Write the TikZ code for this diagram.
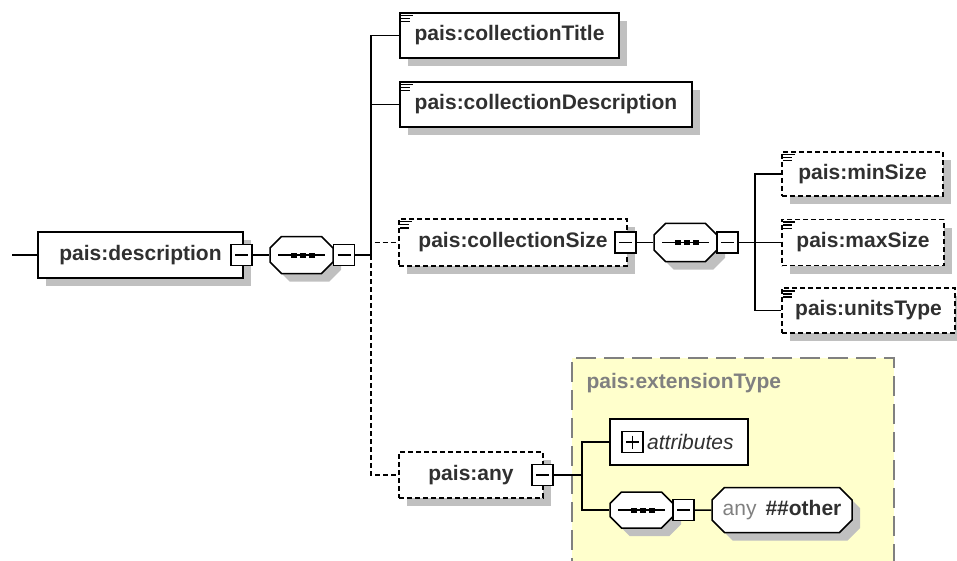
\documentclass[tikz,border=0pt]{standalone}
\usepackage{fontspec}
\setmainfont{Liberation Sans}
\usepackage{tikz}
\usetikzlibrary{positioning, shapes.misc, shadows}
\definecolor{colorText}{HTML}{303030}
\definecolor{colorShadow}{HTML}{C0C0C0}
\definecolor{colorType}{HTML}{FFFFCC}
\definecolor{colorTypeLine}{HTML}{808080}
\newcommand\seqline{\rule[-8pt]{0pt}{16pt}\rule[-0.75pt]{13pt}{1.5pt}\rule[-2.5pt]{6pt}{5pt}\rule[-0.75pt]{3pt}{1.5pt}\rule[-2.5pt]{6pt}{5pt}\rule[-0.75pt]{3pt}{1.5pt}\rule[-2.5pt]{6pt}{5pt}\rule[-0.75pt]{10pt}{1.5pt}}
\tikzset{
  every node/.style={font=\fontsize{21}{24}\selectfont\bfseries, text=colorText},
  shadowed/.style={drop shadow={shadow xshift=8pt, shadow yshift=-8pt, fill=colorShadow, opacity=1}},
  element/.style={draw, line width=1.5pt, fill=white, inner sep=0pt, minimum height=46pt, shadowed},
  optional/.style={element, dash pattern=on 5pt off 3pt},
  minusbox/.style={draw, line width=1.5pt, fill=white, inner sep=0pt, minimum size=21pt,
    path picture={\draw[line width=1.4pt] ([xshift=4pt]path picture bounding box.west) -- ([xshift=-4pt]path picture bounding box.east);}},
  plusbox/.style={draw, line width=1.5pt, fill=white, inner sep=0pt, minimum size=21pt,
    path picture={\draw[line width=1.4pt] ([xshift=4pt]path picture bounding box.west) -- ([xshift=-4pt]path picture bounding box.east)
      ([yshift=-4pt]path picture bounding box.north) -- ([yshift=4pt]path picture bounding box.south);}},
  sequence/.style={chamfered rectangle, chamfered rectangle xsep=8pt, draw, line width=1.5pt, fill=white,
    minimum width=63pt, minimum height=37pt, inner sep=0pt, text=black, shadowed},
  wildcard/.style={chamfered rectangle, chamfered rectangle xsep=9pt, draw, line width=1.5pt, fill=white,
    minimum width=140pt, minimum height=45pt, inner sep=0pt, shadowed},
  typebox/.style={draw=colorTypeLine, fill=colorType, line width=2pt, dash pattern=on 20pt off 8pt},
  link/.style={line width=1.5pt, draw=black},
  optlink/.style={link, dash pattern=on 5pt off 3pt}
}
\newcommand\leafmark[1]{\draw[line width=1.5pt, black]
  ([shift={(2pt,-3.5pt)}]#1.north west) -- ++(12pt,0pt)
  ([shift={(2pt,-6.5pt)}]#1.north west) -- ++(9pt,0pt)
  ([shift={(2pt,-9.5pt)}]#1.north west) -- ++(9pt,0pt);}

\begin{document}
\begin{tikzpicture}[x=1pt, y=-1pt]
\useasboundingbox (0,0) rectangle (957,561);
\node[typebox, anchor=north west, minimum width=322pt, minimum height=220pt] (ext) at (571,357) {};
\node[anchor=west, text=colorTypeLine] (extname) at (583,383) {pais:extensionType};

\coordinate (start) at (12,255);
\node[element, minimum width=205pt] (desc) at (140.5,255) {pais:description};
\node[minusbox] (desc-m) at (241.5,255) {};
\node[sequence] (seq1) at (301.5,255) {\seqline};
\node[minusbox] (seq1-m) at (344,255) {};
\coordinate (fork1) at (371,255);

\node[element, minimum width=219pt, minimum height=45pt] (title) at (509.5,35.5) {pais:collectionTitle};
\node[element, minimum width=292pt, minimum height=45pt] (descr) at (546,104.5) {pais:collectionDescription};
\node[optional, minimum width=228pt, minimum height=47pt] (size) at (513,242.5) {pais:collectionSize};
\node[minusbox] (size-m) at (625.5,242.5) {};
\node[sequence, minimum height=38pt] (seq2) at (685.5,242.5) {\seqline};
\node[minusbox] (seq2-m) at (727.5,242.5) {};
\coordinate (fork2) at (755,242.5);

\node[optional, minimum width=161pt, minimum height=44pt] (minsize) at (862.5,174) {pais:minSize};
\node[optional, minimum width=162pt] (maxsize) at (863,242.5) {pais:maxSize};
\node[optional, minimum width=173pt, minimum height=45pt] (units) at (868.5,310.5) {pais:unitsType};

\node[optional, minimum width=144pt] (any) at (471,475) {pais:any};
\node[minusbox] (any-m) at (542.5,475) {};
\coordinate (fork3) at (582,475);

\node[draw, line width=1.5pt, fill=white, minimum width=138pt, minimum height=46pt] (attr) at (679,442) {};
\node[plusbox] (attr-p) at (632.5,442) {};
\node[anchor=west, font=\fontsize{21}{24}\selectfont\itshape, inner sep=0pt] (attr-text) at (647,442) {attributes};
\node[sequence, minimum height=36pt] (seq3) at (641.5,510) {\seqline};
\node[minusbox] (seq3-m) at (683.5,510) {};
\node[wildcard] (other) at (782,510) {\textcolor{colorTypeLine}{\mdseries any}\hspace{9pt}\#\#other};

\foreach \n in {title, descr, size, minsize, maxsize, units} \leafmark{\n};

\draw[link] (start) -- (desc);
\draw[link] (desc-m) -- (seq1);
\draw[link] (seq1-m) -- (fork1);
\draw[link] (fork1) |- (title);
\draw[link] (fork1) |- (descr);
\draw[optlink] (fork1) |- (size);
\draw[optlink] (fork1) |- (any);
\draw[link] (size-m) -- (seq2);
\draw[link] (seq2-m) -- (fork2);
\draw[link] (fork2) |- (minsize);
\draw[link] (fork2) -- (maxsize);
\draw[link] (fork2) |- (units);
\draw[link] (any-m) -- (fork3);
\draw[link] (fork3) |- (attr);
\draw[link] (fork3) |- (seq3);
\draw[link] (seq3-m) -- (other);
\end{tikzpicture}
\end{document}
